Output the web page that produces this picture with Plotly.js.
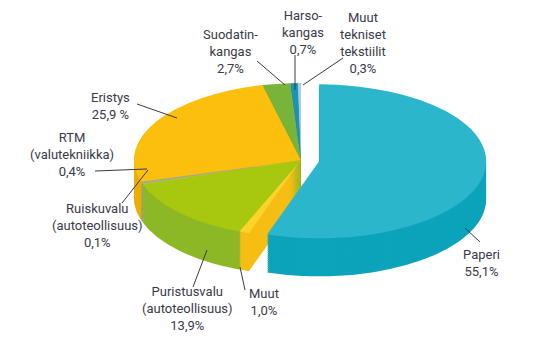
<!DOCTYPE html>
<html>
<head>
<meta charset="utf-8">
<script src="https://cdn.plot.ly/plotly-3.0.1.min.js"></script>
<style>html,body{margin:0;padding:0;background:#fff;}#chart{width:544px;height:354px;}</style>
</head>
<body>
<div id="chart"></div>
<script>
// ---- data ----
const categories = ['Paperi', 'Muut', 'Puristusvalu (autoteollisuus)', 'Ruiskuvalu (autoteollisuus)',
  'RTM (valutekniikka)', 'Eristys', 'Suodatinkangas', 'Harsokangas', 'Muut tekniset tekstiilit'];
const shares = [55.1, 1.0, 13.9, 0.1, 0.4, 25.9, 2.7, 0.7, 0.3];
const labelLines = [['Paperi'], ['Muut'], ['Puristusvalu', '(autoteollisuus)'], ['Ruiskuvalu', '(autoteollisuus)'],
  ['RTM', '(valutekniikka)'], ['Eristys'], ['Suodatin-', 'kangas'], ['Harso-', 'kangas'], ['Muut', 'tekniset', 'tekstiilit']];
const shareText = ['55,1%', '1,0%', '13,9%', '0,1%', '0,4%', '25,9 %', '2,7%', '0,7%', '0,3%'];

// ---- styling ----
const topColors  = ['#2cb6cc', '#fdd32a', '#a8c70f', '#dfe6c0', '#9aab9e', '#fcbf0e', '#79b43a', '#1a93b6', '#a9cfdb'];
const sideColors = ['#0ca3bb', '#f6bd14', '#8db826', '#c9d49a', '#879a8c', '#eaae00', '#67a22e', '#15809f', '#8fbccb'];
const pulls = [0.11, 0, 0, 0, 0, 0, 0, 0, 0];

// label placement (pixel centre x, centre y) and leader lines (pixels)
const labelPos = [[481, 263], [264, 302], [187, 308], [97, 225], [72, 154], [110, 106], [230, 52], [303, 32], [363, 43]];
const leaders = [[465, 228, 480, 242], [240, 267, 245, 290], [207, 250, 193, 287], [148, 170, 122, 203],
  [147, 169, 95, 171], [177, 118, 137, 104], [285, 85, 257, 61], [295, 90, 295, 55], [303, 85, 343, 58]];

const W = 544, H = 354;
const CX = 301, CY = 160, RX = 167, RY = 77, DEPTH = 38, STEP = 2;

const offsets = [];
for (let k = DEPTH; k > 0; k -= STEP) offsets.push(k);
offsets.push(0);

const traces = offsets.map(k => ({
  type: 'pie',
  labels: categories,
  values: shares,
  sort: false,
  direction: 'clockwise',
  rotation: 0,
  pull: pulls,
  textinfo: 'none',
  hoverinfo: 'none',
  marker: { colors: k === 0 ? topColors : sideColors, line: { width: 0 } },
  domain: { x: [0, 1], y: [0, 1] },
  showlegend: false
}));

const px = x => x / W, py = y => 1 - y / H;

const annotations = categories.map((c, i) => ({
  xref: 'paper', yref: 'paper',
  x: px(labelPos[i][0]), y: py(labelPos[i][1]),
  xanchor: 'center', yanchor: 'middle', align: 'center',
  showarrow: false,
  text: labelLines[i].concat([shareText[i]]).join('<br>'),
  font: { family: 'Roboto, Arial, sans-serif', size: 13, color: '#3a3a4a' }
}));

const shapes = leaders.map(l => ({
  type: 'line', xref: 'paper', yref: 'paper',
  x0: px(l[0]), y0: py(l[1]), x1: px(l[2]), y1: py(l[3]),
  line: { color: '#3a3a48', width: 1 }
}));

const layout = {
  width: W, height: H,
  margin: { l: 0, r: 0, t: 0, b: 0 },
  paper_bgcolor: '#ffffff',
  showlegend: false,
  annotations: annotations,
  shapes: shapes
};

Plotly.newPlot('chart', traces, layout, { displayModeBar: false, staticPlot: true }).then(gd => {
  const groups = gd.querySelectorAll('.pielayer .trace');
  groups.forEach((g, i) => {
    const cd0 = gd.calcdata[i][0];
    const k = offsets[i];
    g.setAttribute('transform',
      'translate(' + CX + ',' + (CY + k) + ') scale(' + (RX / cd0.r) + ',' + (RY / cd0.r) + ') translate(' + (-cd0.cx) + ',' + (-cd0.cy) + ')');
  });
});
</script>
</body>
</html>
